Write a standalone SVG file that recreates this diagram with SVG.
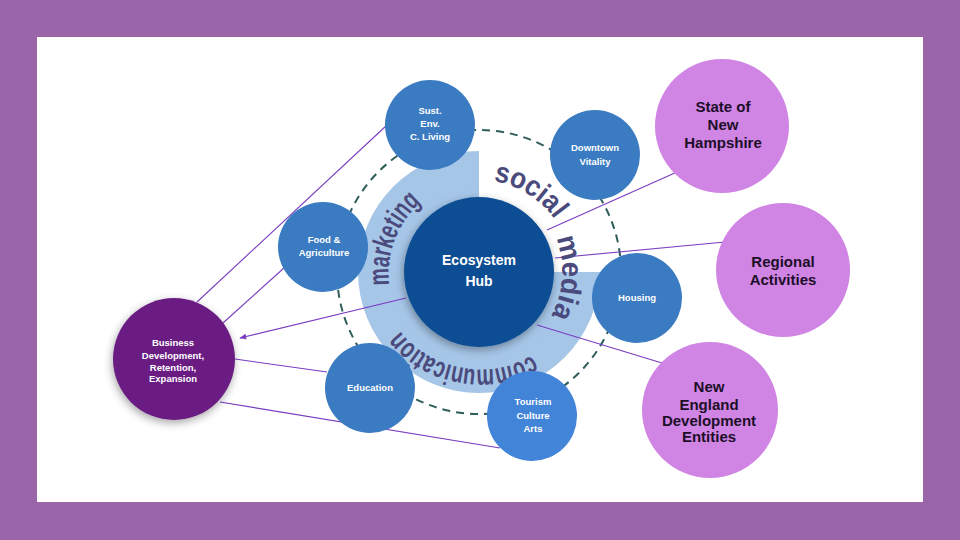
<svg xmlns="http://www.w3.org/2000/svg" width="960" height="540" viewBox="0 0 960 540">
<defs>
<style>
.sat{fill:#3b7bc2}
.satT{font-family:"Liberation Sans",Arial,sans-serif;font-weight:bold;font-size:9.5px;fill:#ffffff;text-anchor:middle}
.outer{fill:#d084e4}
.outT{font-family:"Liberation Sans",Arial,sans-serif;font-weight:bold;font-size:15px;fill:#1c0f28;text-anchor:middle}
.con{stroke:#7a3cc0;stroke-width:1.1;fill:none}
.arc{font-family:"Liberation Sans",Arial,sans-serif;font-weight:bold;font-size:29px;fill:#4a4a7c}
</style>
<filter id="sh" x="-30%" y="-30%" width="160%" height="160%">
<feDropShadow dx="-1" dy="3" stdDeviation="4" flood-color="#000" flood-opacity="0.35"/>
</filter>
<marker id="arr" viewBox="0 0 10 10" refX="9" refY="5" markerWidth="7" markerHeight="7" orient="auto" markerUnits="userSpaceOnUse">
<path d="M0,1 L10,5 L0,9 Z" fill="#7a3cc0"/>
</marker>
<path id="pMk" d="M563.0,304.3 A90,90 0 1 1 395.0,239.7 A90,90 0 1 1 563.0,304.3"/>
<path id="pSo" d="M430.2,350.0 A92,92 0 1 1 527.8,194.0 A92,92 0 1 1 430.2,350.0"/>
<path id="pMe" d="M396.2,266.9 A83,83 0 1 1 561.8,277.1 A83,83 0 1 1 396.2,266.9"/>
<path id="pCo" d="M496.4,176.6 A97,97 0 1 1 461.6,367.4 A97,97 0 1 1 496.4,176.6"/>
</defs>
<rect x="0" y="0" width="960" height="540" fill="#9a66a9"/>
<rect x="37" y="37" width="886" height="465" fill="#ffffff"/>

<g id="band">
<path d="M479,151 A121,121 0 1 0 600,272 L549,272 A70,70 0 0 1 479,202 Z" fill="#a6c6e8"/>
</g>
<g id="ring">
<circle cx="479" cy="272" r="142" fill="none" stroke="#2e5d5a" stroke-width="2" stroke-dasharray="8 6"/>
</g>

<g id="connectors">
<line class="con" x1="197" y1="302" x2="387" y2="125"/>
<line class="con" x1="223" y1="323" x2="284" y2="268"/>
<line class="con" x1="406" y1="298" x2="240" y2="338" marker-end="url(#arr)"/>
<line class="con" x1="235" y1="359" x2="327" y2="372"/>
<line class="con" x1="220" y1="402" x2="500" y2="448"/>
<line class="con" x1="547" y1="230" x2="677" y2="172"/>
<line class="con" x1="555" y1="258" x2="725" y2="242"/>
<line class="con" x1="537" y1="325" x2="662" y2="363"/>
</g>

<g id="hub">
<circle cx="479" cy="272" r="75" fill="#0f4e93" filter="url(#sh)"/>
<text x="479" y="265" font-family="Liberation Sans,Arial,sans-serif" font-weight="bold" font-size="14" fill="#ffffff" text-anchor="middle">Ecosystem</text>
<text x="479" y="286" font-family="Liberation Sans,Arial,sans-serif" font-weight="bold" font-size="14" fill="#ffffff" text-anchor="middle">Hub</text>
</g>

<g id="labels">
<text class="arc"><textPath href="#pMk" startOffset="50%" text-anchor="middle" textLength="92" lengthAdjust="spacingAndGlyphs">marketing</textPath></text>
<text class="arc"><textPath href="#pSo" startOffset="50%" text-anchor="middle" textLength="74" lengthAdjust="spacingAndGlyphs">social</textPath></text>
<text class="arc"><textPath href="#pMe" startOffset="50%" text-anchor="middle" textLength="80" lengthAdjust="spacingAndGlyphs">media</textPath></text>
<text class="arc"><textPath href="#pCo" startOffset="50%" text-anchor="middle" textLength="146" lengthAdjust="spacingAndGlyphs">communication</textPath></text>
</g>

<g id="sust">
<circle class="sat" cx="430" cy="125" r="45"/>
<text class="satT" x="430" y="114">Sust.</text>
<text class="satT" x="430" y="127">Env.</text>
<text class="satT" x="430" y="140">C. Living</text>
</g>
<g id="downtown">
<circle class="sat" cx="595" cy="155" r="45"/>
<text class="satT" x="595" y="151">Downtown</text>
<text class="satT" x="595" y="165">Vitality</text>
</g>
<g id="housing">
<circle class="sat" cx="637" cy="298" r="45"/>
<text class="satT" x="637" y="301">Housing</text>
</g>
<g id="tourism">
<circle cx="532" cy="416" r="45" fill="#4284d8"/>
<text class="satT" x="533" y="405">Tourism</text>
<text class="satT" x="533" y="419">Culture</text>
<text class="satT" x="533" y="432">Arts</text>
</g>
<g id="education">
<circle class="sat" cx="370" cy="388" r="45"/>
<text class="satT" x="370" y="391">Education</text>
</g>
<g id="food">
<circle class="sat" cx="323" cy="247" r="45"/>
<text class="satT" x="324" y="243">Food &amp;</text>
<text class="satT" x="324" y="256">Agriculture</text>
</g>

<g id="business">
<circle cx="174" cy="359" r="61" fill="#6b1d83" filter="url(#sh)"/>
<text class="satT" x="173" y="346">Business</text>
<text class="satT" x="173" y="359">Development,</text>
<text class="satT" x="173" y="371">Retention,</text>
<text class="satT" x="173" y="382">Expansion</text>
</g>

<g id="stateNH">
<circle class="outer" cx="722" cy="126" r="67"/>
<text class="outT" x="723" y="112">State of</text>
<text class="outT" x="723" y="130">New</text>
<text class="outT" x="723" y="148">Hampshire</text>
</g>
<g id="regional">
<circle class="outer" cx="783" cy="270" r="67"/>
<text class="outT" x="783" y="267">Regional</text>
<text class="outT" x="783" y="285">Activities</text>
</g>
<g id="newEngland">
<circle class="outer" cx="710" cy="410" r="68"/>
<text class="outT" x="709" y="392">New</text>
<text class="outT" x="709" y="410">England</text>
<text class="outT" x="709" y="426" font-size="13">Development</text>
<text class="outT" x="709" y="442" font-size="13">Entities</text>
</g>
</svg>
